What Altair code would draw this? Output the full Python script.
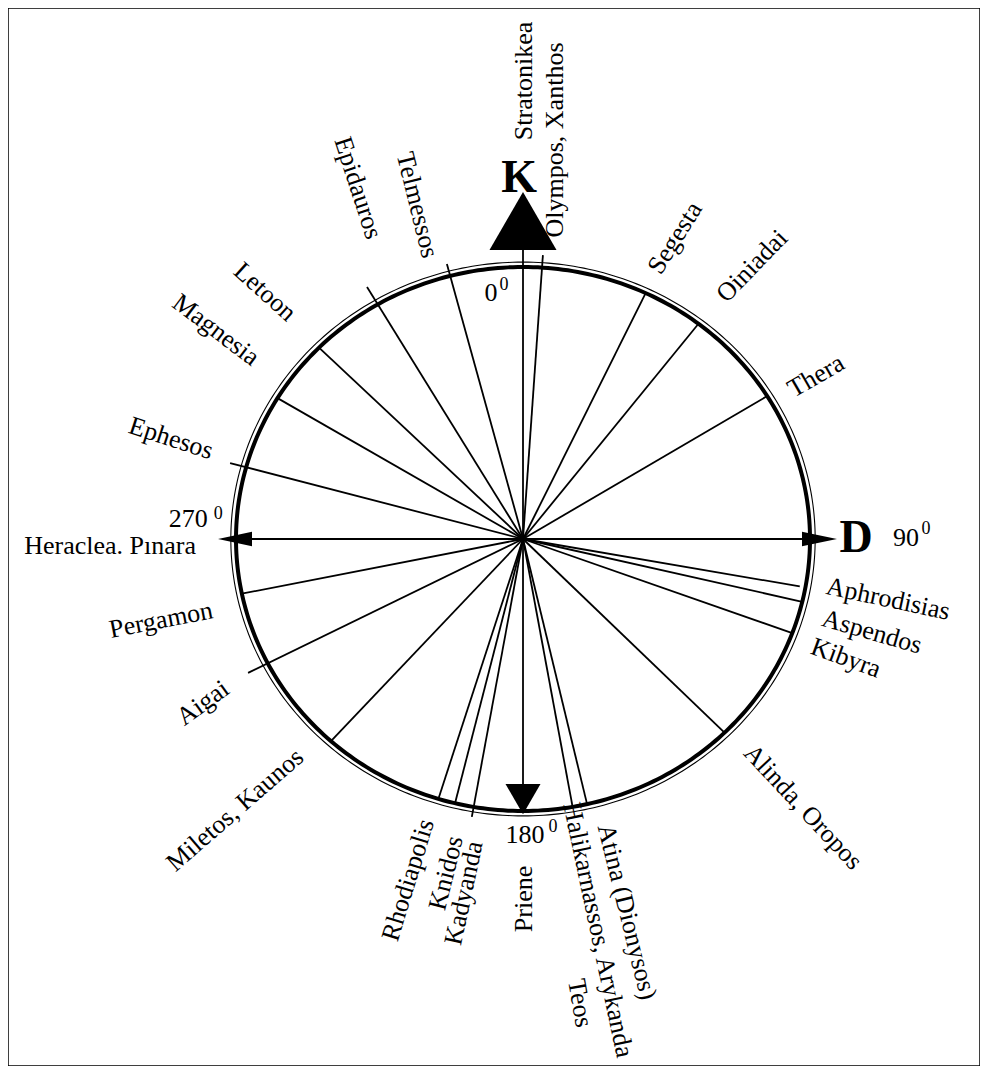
import altair as alt
import pandas as pd

# ---------------- data (compass bearings in degrees, lengths relative to ring radius) -------------
ray_names = ["Stratonikea", "Olympos, Xanthos", "Segesta", "Oiniadai", "Thera", "D (East)",
             "Aphrodisias", "Aspendos", "Kibyra", "Alinda, Oropos", "Atina (Dionysos)",
             "Halikarnassos, Arykanda, Teos", "Priene", "Kadyanda", "Knidos", "Rhodiapolis",
             "Miletos, Kaunos", "Aigai", "Pergamon", "Heraclea, Pınara", "Ephesos",
             "Magnesia", "Letoon", "Epidauros", "Telmessos"]
ray_bearing = [0, 3.8, 25.3, 37.7, 58.3, 90, 100.25, 103.35, 110.25, 135.4, 167.1,
               170.05, 180, 189.9, 193.7, 197.15, 222.0, 242.8, 258.4, 270, 285.3,
               301.2, 314.7, 329.6, 345.3]
ray_length = [1.0625, 1.046, 1.0, 1.0, 1.0, 0.972, 0.98, 1.0, 1.0, 1.0, 1.0,
              1.0, 0.904, 1.037, 1.0, 1.0, 1.0, 1.077, 1.0, 0.95, 1.058,
              1.0, 1.0, 1.074, 1.045]

label_text = ["Stratonikea", "Olympos, Xanthos", "Segesta", "Oiniadai", "Thera",
              "Aphrodisias", "Aspendos", "Kibyra", "Alinda, Oropos", "Atina (Dionysos)",
              "Halikarnassos, Arykanda", "Teos", "Priene", "Kadyanda", "Knidos",
              "Rhodiapolis", "Miletos, Kaunos", "Aigai", "Pergamon", "Heraclea. Pınara",
              "Ephesos", "Magnesia", "Letoon", "Epidauros", "Telmessos"]
label_r = [1.684, 1.471, 1.227, 1.282, 1.184, 1.291, 1.263, 1.2075, 1.387, 1.418,
           1.461, 1.7175, 1.3235, 1.318, 1.257, 1.316, 1.414, 1.268, 1.296, 1.439,
           1.281, 1.317, 1.278, 1.413, 1.282]
label_b = [0.1, 4.28, 25.57, 38.5, 59.6, 99.84, 105.7, 111.25, 135.3, 165.2,
           169.70, 173.36, 179.8, 188.98, 192.3, 197.7, 225.2, 241.6, 256.7, 268.98,
           286.8, 305.7, 315.3, 336.0, 343.3]
label_rot = [270, 270, 302, 314, 330, 12, 16, 20, 47, 76,
             78, 80, 270, 282, 284, 287, 319, 324, 349, 0,
             18, 37, 42, 72, 76]

# cardinal letters
card_text = ["K", "D"]
card_r = [1.2758, 1.1613]
card_b = [359.38, 92.36]

# degree numbers (main figure and the small superscript zero)
deg_text = ["0", "270", "90", "180"]
deg_r = [0.911, 1.169, 1.3345, 1.088]
deg_b = [352.97, 273.6, 89.84, 179.63]
sup_r = [0.936, 1.066, 1.405, 1.064]
sup_b = [355.95, 274.93, 88.5, 174.36]

# arrow heads
arrow_shape = ["triangle-up", "M1,0L-1,-0.42L-1,0.42Z", "triangle-down", "M-1,0L1,-0.42L1,0.42Z"]
arrow_r = [1.169, 1.033, 0.956, 1.0035]
arrow_b = [0, 90, 180, 270]
arrow_size = [4489, 1225, 1225, 1156]

ring_r = [1.0, 1.018]

# ---------------- layout ----------------
W, H = 972, 1058
xs = alt.Scale(domain=[-1.7944, 1.5923], nice=False, zero=False)
ys = alt.Scale(domain=[-1.9375, 1.9522], nice=False, zero=False)
FONT = "Liberation Serif"

PX = "datum.r*sin(datum.b*PI/180)"
PY = "datum.r*cos(datum.b*PI/180)"

def X(f):
    return alt.X(f, type="quantitative", scale=xs, axis=None)

def Y(f):
    return alt.Y(f, type="quantitative", scale=ys, axis=None)

rays_df = pd.DataFrame({"name": ray_names, "b": ray_bearing, "r": ray_length})
rays = alt.Chart(rays_df).transform_calculate(
    x1=PX, y1=PY, x0="0", y0="0"
).mark_rule(color="black", strokeWidth=1.8).encode(
    x=X("x0"), y=Y("y0"), x2="x1:Q", y2="y1:Q"
)

def ring(rad, sw):
    return alt.Chart(alt.sequence(0, 361, 1, as_="deg")).transform_calculate(
        rx=f"{rad}*sin(datum.deg*PI/180)", ry=f"{rad}*cos(datum.deg*PI/180)"
    ).mark_line(color="black", strokeWidth=sw).encode(
        x=X("rx"), y=Y("ry"), order="deg:Q"
    )

ring_inner = ring(ring_r[0], 4.0)
ring_outer = ring(ring_r[1], 1.1)

arrows_df = pd.DataFrame({"shape": arrow_shape, "r": arrow_r, "b": arrow_b, "size": arrow_size})
arrows = alt.Chart(arrows_df).transform_calculate(px=PX, py=PY).mark_point(
    filled=True, color="black", opacity=1, strokeWidth=0
).encode(
    x=X("px"), y=Y("py"),
    shape=alt.Shape("shape:N", scale=None),
    size=alt.Size("size:Q", scale=None),
)

labels_df = pd.DataFrame({"text": label_text, "r": label_r, "b": label_b, "rot": label_rot})
labels = alt.Chart(labels_df).transform_calculate(px=PX, py=PY).mark_text(
    font=FONT, fontSize=26, color="black", align="center", baseline="middle"
).encode(
    x=X("px"), y=Y("py"), text="text:N", angle=alt.Angle("rot:Q", scale=None)
)

card_df = pd.DataFrame({"text": card_text, "r": card_r, "b": card_b})
cards = alt.Chart(card_df).transform_calculate(px=PX, py=PY).mark_text(
    font=FONT, fontSize=46, fontWeight="bold", color="black", align="center", baseline="alphabetic"
).encode(x=X("px"), y=Y("py"), text="text:N")

deg_df = pd.DataFrame({"text": deg_text, "r": deg_r, "b": deg_b})
degs = alt.Chart(deg_df).transform_calculate(px=PX, py=PY).mark_text(
    font=FONT, fontSize=26, color="black", align="center", baseline="middle"
).encode(x=X("px"), y=Y("py"), text="text:N")

sup_df = pd.DataFrame({"text": ["0"] * len(sup_r), "r": sup_r, "b": sup_b})
sups = alt.Chart(sup_df).transform_calculate(px=PX, py=PY).mark_text(
    font=FONT, fontSize=18, color="black", align="center", baseline="middle"
).encode(x=X("px"), y=Y("py"), text="text:N")

chart = alt.layer(rays, ring_inner, ring_outer, arrows, labels, cards, degs, sups).properties(
    width=W, height=H, padding=0,
    autosize=alt.AutoSizeParams(type="none"),
    background="white",
).configure_view(stroke="black", strokeWidth=1.5)

chart.save("out.html", embed_options={"renderer": "svg", "actions": False})
